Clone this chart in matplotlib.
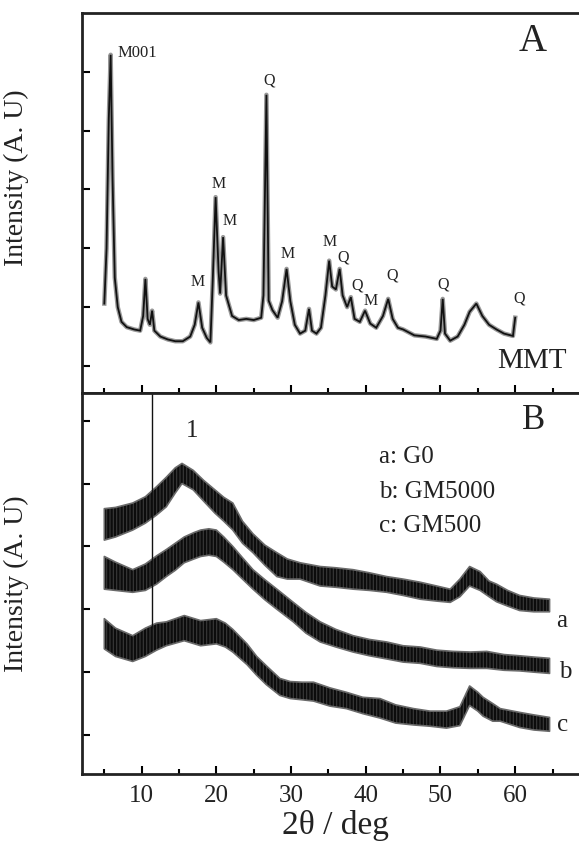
import matplotlib
matplotlib.use("Agg")
import matplotlib.pyplot as plt

plt.rcParams['font.family'] = ['Liberation Serif', 'DejaVu Serif']
plt.rcParams['hatch.linewidth'] = 1.6

# ---------------- Panel A: MMT pattern ----------------
mmt_x = [5.0, 5.3, 5.6, 5.85, 6.1, 6.4, 6.8, 7.3, 8.0, 9.0, 9.8, 10.2, 10.5, 10.8, 11.1,
         11.4, 11.7, 12.5, 13.5, 14.5, 15.5, 16.5, 17.1, 17.6, 18.1, 18.7, 19.2, 19.5,
         19.9, 20.3, 20.5, 20.9, 21.3, 22.1, 23.0, 24.0, 25.0, 26.0, 26.3, 26.7, 27.0,
         27.5, 28.2, 28.8, 29.4, 29.9, 30.5, 31.2, 31.9, 32.4, 32.8, 33.4, 34.0, 34.6,
         35.1, 35.5, 36.0, 36.5, 36.9, 37.5, 38.0, 38.5, 39.2, 39.9, 40.6, 41.4, 42.3,
         43.0, 43.6, 44.3, 45.0, 46.5, 48.0, 49.5, 50.0, 50.3, 50.6, 51.3, 52.3, 53.2,
         53.9, 54.8, 55.6, 56.5, 57.5, 58.5, 59.7, 60.0]
mmt_y = [1.06, 2.0, 4.2, 5.29, 3.2, 1.5, 1.0, 0.75, 0.66, 0.62, 0.60, 0.85, 1.48, 0.8, 0.7,
         0.94, 0.6, 0.5, 0.45, 0.42, 0.42, 0.5, 0.7, 1.08, 0.65, 0.48, 0.40, 1.4,
         2.87, 1.6, 1.23, 2.19, 1.2, 0.85, 0.78, 0.8, 0.78, 0.82, 1.2, 4.61, 1.11,
         0.95, 0.82, 1.1, 1.65, 1.1, 0.7, 0.55, 0.6, 0.97, 0.6, 0.55, 0.65, 1.2,
         1.79, 1.35, 1.3, 1.65, 1.2, 1.0, 1.17, 0.8, 0.75, 0.94, 0.72, 0.65, 0.85,
         1.14, 0.8, 0.65, 0.62, 0.52, 0.5, 0.46, 0.6, 1.14, 0.55, 0.43, 0.5, 0.7,
         0.92, 1.06, 0.85, 0.7, 0.62, 0.55, 0.51, 0.82]

peak_labels = ["M001", "M", "M", "M", "Q", "M", "M", "Q", "Q", "M", "Q", "Q", "Q"]
peak_label_x = [6.83, 17.5, 20.25, 21.8, 27.1, 29.5, 35.2, 37.0, 38.9, 40.6, 43.5, 50.4, 60.5]
peak_label_y = [5.32, 1.42, 3.10, 2.46, 4.86, 1.91, 2.10, 1.85, 1.37, 1.11, 1.54, 1.39, 1.14]

# ---------------- Panel B: noisy bands (core envelopes) ----------------
a_x = [5.0, 6.5, 8.8, 10.5, 12.0, 13.3, 14.5, 15.4, 16.9, 18.3, 19.8, 21.0, 22.2, 23.5,
       24.9, 26.5, 28.1, 29.5, 31.2, 33.9, 36.0, 38.3, 40.5, 42.8, 45.0, 47.3, 49.5,
       51.3, 52.6, 53.9, 55.3, 56.5, 57.5, 59.0, 60.6, 62.5, 64.6]
a_low = [3.10, 3.15, 3.26, 3.37, 3.50, 3.63, 3.85, 4.00, 3.90, 3.72, 3.53, 3.40, 3.26, 3.05,
         2.90, 2.70, 2.52, 2.48, 2.48, 2.37, 2.35, 2.32, 2.30, 2.27, 2.22, 2.16, 2.13,
         2.11, 2.20, 2.37, 2.30, 2.20, 2.12, 2.05, 1.98, 1.96, 1.96]
a_high = [3.60, 3.62, 3.69, 3.79, 3.95, 4.10, 4.25, 4.32, 4.21, 4.05, 3.90, 3.78, 3.69, 3.40,
          3.20, 3.02, 2.90, 2.80, 2.74, 2.68, 2.66, 2.63, 2.58, 2.52, 2.48, 2.43, 2.37,
          2.32, 2.48, 2.68, 2.60, 2.45, 2.40, 2.30, 2.22, 2.18, 2.16]

b_x = [5.0, 6.5, 8.8, 10.5, 12.0, 13.3, 14.5, 15.7, 17.0, 17.9, 19.0, 20.0, 21.0, 22.2,
       23.5, 24.9, 26.5, 28.1, 30.3, 32.0, 33.9, 36.0, 38.3, 40.5, 42.8, 45.0, 47.3,
       49.5, 51.7, 54.0, 56.2, 58.5, 60.6, 62.5, 64.6]
b_low = [2.32, 2.30, 2.27, 2.30, 2.40, 2.52, 2.62, 2.74, 2.80, 2.84, 2.86, 2.84, 2.75, 2.63,
         2.48, 2.32, 2.15, 2.00, 1.80, 1.62, 1.48, 1.40, 1.32, 1.26, 1.21, 1.16, 1.14,
         1.09, 1.07, 1.06, 1.06, 1.03, 1.02, 1.00, 0.98]
b_high = [2.84, 2.75, 2.63, 2.72, 2.85, 2.95, 3.05, 3.15, 3.22, 3.26, 3.28, 3.26, 3.15, 3.00,
          2.82, 2.63, 2.47, 2.32, 2.11, 1.95, 1.80, 1.68, 1.58, 1.52, 1.48, 1.42, 1.40,
          1.35, 1.33, 1.32, 1.33, 1.28, 1.26, 1.24, 1.22]

c_x = [5.0, 6.5, 8.8, 10.5, 12.0, 13.3, 15.7, 17.9, 20.0, 21.2, 22.2, 24.1, 25.4, 26.7,
       28.5, 29.9, 31.5, 33.0, 35.2, 37.4, 39.6, 41.9, 44.0, 46.4, 48.6, 50.8, 52.6,
       53.9, 55.0, 55.7, 57.0, 58.0, 60.6, 62.5, 64.6]
c_low = [1.37, 1.25, 1.17, 1.25, 1.35, 1.42, 1.50, 1.42, 1.45, 1.40, 1.32, 1.12, 0.95, 0.80,
         0.63, 0.58, 0.56, 0.54, 0.46, 0.42, 0.34, 0.27, 0.19, 0.16, 0.14, 0.11, 0.15,
         0.47, 0.38, 0.30, 0.22, 0.22, 0.12, 0.08, 0.06]
c_high = [1.85, 1.70, 1.58, 1.70, 1.78, 1.80, 1.90, 1.82, 1.85, 1.78, 1.68, 1.45, 1.25, 1.10,
          0.90, 0.85, 0.84, 0.84, 0.75, 0.68, 0.60, 0.58, 0.48, 0.42, 0.38, 0.38, 0.45,
          0.78, 0.68, 0.60, 0.50, 0.42, 0.36, 0.32, 0.28]

spike_x = [11.34]
spike_bottom = [1.7]
spike_top = [5.6]

legend_lines = ["a: G0", "b: GM5000", "c: GM500"]
legend_y = [4.42, 3.87, 3.32]
curve_names = ["a", "b", "c"]
curve_name_x = [66.2, 66.7, 66.4]
curve_name_y = [1.82, 1.00, 0.16]

# ---------------- Figure ----------------
W, H = 579, 858
fig = plt.figure(figsize=(W / 100, H / 100), dpi=100)
left = 81.9 / W
width = 508 / W
axA = fig.add_axes([left, (H - 393) / H, width, (393 - 13) / H])
axB = fig.add_axes([left, (H - 774) / H, width, (774 - 393) / H])

for ax in (axA, axB):
    ax.set_xlim(2, 70)
    ax.set_xticks([10, 20, 30, 40, 50, 60])
    ax.set_xticks([5, 15, 25, 35, 45, 55, 65], minor=True)
    ax.tick_params(which='both', direction='in', top=False, right=False, width=1.5)
    ax.tick_params(which='major', length=6)
    ax.tick_params(which='minor', length=3.5)
    for s in ax.spines.values():
        s.set_linewidth(2.0)
        s.set_color('#222222')
    ax.set_ylabel("Intensity (A. U)", fontsize=20, color='#222222')

# Panel A
axA.set_ylim(-0.46, 6.0)
axA.set_yticks([0, 1, 2, 3, 4, 5])
axA.set_yticklabels([])
axA.set_xticklabels([])
axA.plot(mmt_x, mmt_y, color='#555555', lw=3.2, solid_joinstyle='round', alpha=0.6)
axA.plot(mmt_x, mmt_y, color='#111111', lw=1.3, solid_joinstyle='miter')
for t, x, y in zip(peak_labels, peak_label_x, peak_label_y):
    fs = 12 if t == "M001" else 11.5
    ha = 'left' if t == "M001" else 'center'
    axA.text(x, y, t, fontsize=fs, ha=ha, va='center', color='#222222')
axA.text(62.4, 5.52, "A", fontsize=28, ha='center', va='center', color='#222222')
axA.text(62.2, 0.085, "MMT", fontsize=21, ha='center', va='center', color='#222222')
axA.yaxis.set_label_coords(-0.105, 0.566)

# Panel B
axB.set_ylim(-0.62, 5.44)
axB.set_yticks([0, 1, 2, 3, 4, 5])
axB.set_yticklabels([])
for xs, lo, hi in ((a_x, a_low, a_high), (b_x, b_low, b_high), (c_x, c_low, c_high)):
    axB.fill_between(xs, lo, hi, facecolor='#3a3a3a', edgecolor='#0c0c0c',
                     hatch='|||||', lw=0)
    axB.fill_between(xs, lo, hi, facecolor='none', edgecolor='#6a6a6a', lw=1.2)
axB.vlines(spike_x, spike_bottom, spike_top, color='#111111', lw=1.0)
axB.text(16.7, 4.84, "1", fontsize=18, ha='center', va='center', color='#222222')
axB.text(62.5, 5.0, "B", fontsize=25, ha='center', va='center', color='#222222')
for t, y in zip(legend_lines, legend_y):
    axB.text(41.8, y, t, fontsize=18, ha='left', va='center', color='#222222')
for t, x, y in zip(curve_names, curve_name_x, curve_name_y):
    axB.text(x, y, t, fontsize=18, ha='center', va='center', color='#222222')
axB.tick_params(axis='x', labelsize=18, pad=8, labelcolor='#222222')
axB.set_xlabel("2θ / deg", fontsize=24, labelpad=2, color='#222222')
axB.yaxis.set_label_coords(-0.105, 0.5)

fig.savefig("out.png", dpi=100)
